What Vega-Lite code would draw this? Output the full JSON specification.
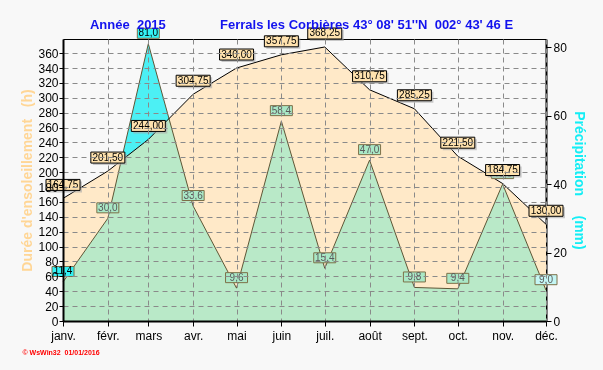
{
  "$schema": "https://vega.github.io/schema/vega-lite/v6.json",
  "width": 483,
  "height": 282,
  "autosize": "none",
  "padding": {"left": 63, "top": 39, "right": 57, "bottom": 49},
  "background": "#F8F8F8",
  "config": {
    "view": {"stroke": "black", "strokeWidth": 1},
    "font": "Liberation Sans",
    "locale": {"number": {"decimal": ",", "thousands": " ", "grouping": [3], "currency": ["", " €"]}}
  },
  "title": {
    "text": "Année\u00a0\u00a02015\u00a0\u00a0\u00a0\u00a0\u00a0\u00a0\u00a0\u00a0\u00a0\u00a0\u00a0\u00a0\u00a0\u00a0\u00a0Ferrals les Corbières 43° 08' 51''N\u00a0\u00a0002° 43' 46 E",
    "color": "#1212EE",
    "font": "Liberation Sans",
    "fontSize": 13,
    "fontWeight": "bold",
    "anchor": "middle",
    "frame": "group",
    "offset": -15,
    "baseline": "alphabetic",
    "dx": -3
  },
  "data": {
    "values": [
      {"date": "2015-01-01T00:00:00", "sun": 164.75, "rain": 11.4},
      {"date": "2015-02-01T00:00:00", "sun": 201.5, "rain": 30.0},
      {"date": "2015-03-01T00:00:00", "sun": 244.0, "rain": 81.0},
      {"date": "2015-04-01T00:00:00", "sun": 304.75, "rain": 33.6},
      {"date": "2015-05-01T00:00:00", "sun": 340.0, "rain": 9.6},
      {"date": "2015-06-01T00:00:00", "sun": 357.75, "rain": 58.4},
      {"date": "2015-07-01T00:00:00", "sun": 368.25, "rain": 15.4},
      {"date": "2015-08-01T00:00:00", "sun": 310.75, "rain": 47.0},
      {"date": "2015-09-01T00:00:00", "sun": 285.25, "rain": 9.8},
      {"date": "2015-10-01T00:00:00", "sun": 221.5, "rain": 9.4},
      {"date": "2015-11-01T00:00:00", "sun": 184.75, "rain": 40.0},
      {"date": "2015-12-01T00:00:00", "sun": 130.0, "rain": 9.0}
    ],
    "format": {"parse": {"date": "date"}}
  },
  "encoding": {
    "x": {
      "field": "date",
      "type": "temporal",
      "scale": {"domain": [{"year": 2015, "month": 1, "date": 1}, {"year": 2015, "month": 12, "date": 1}], "nice": false, "padding": 0},
      "axis": {
        "values": [
          {"year": 2015, "month": 1, "date": 1}, {"year": 2015, "month": 2, "date": 1},
          {"year": 2015, "month": 3, "date": 1}, {"year": 2015, "month": 4, "date": 1},
          {"year": 2015, "month": 5, "date": 1}, {"year": 2015, "month": 6, "date": 1},
          {"year": 2015, "month": 7, "date": 1}, {"year": 2015, "month": 8, "date": 1},
          {"year": 2015, "month": 9, "date": 1}, {"year": 2015, "month": 10, "date": 1},
          {"year": 2015, "month": 11, "date": 1}, {"year": 2015, "month": 12, "date": 1}
        ],
        "labelExpr": "['janv.','févr.','mars','avr.','mai','juin','juil.','août','sept.','oct.','nov.','déc.'][month(datum.value)]",
        "labelFlush": false,
        "labelOverlap": false,
        "labelFont": "Liberation Sans",
        "labelFontSize": 12,
        "labelColor": "black",
        "labelPadding": 4,
        "tickSize": 5,
        "tickColor": "black",
        "domainColor": "black",
        "domainWidth": 2,
        "grid": true,
        "gridColor": "#8A8A8A",
        "gridDash": [5, 4],
        "gridWidth": 1,
        "zindex": 1,
        "title": "©\u00a0WsWin32\u00a0\u00a001/01/2016",
        "titleColor": "#FF0000",
        "titleFontSize": 7,
        "titleFontWeight": "bold",
        "titleAlign": "left",
        "titleAnchor": "start",
        "titleX": -41,
        "titleY": 31,
        "titleBaseline": "middle"
      }
    }
  },
  "layer": [
    {
      "mark": {"type": "area", "color": "#4CF0F4"},
      "encoding": {
        "y": {
          "field": "rain", "type": "quantitative",
          "scale": {"domain": [0, 82.4], "nice": false, "zero": true},
          "axis": {
            "orient": "right",
            "values": [0, 20, 40, 60, 80],
            "grid": false,
            "labelFont": "Liberation Sans",
            "labelFontSize": 12,
            "labelColor": "black",
            "labelPadding": 2,
            "tickSize": 5,
            "tickColor": "black",
            "domainColor": "black",
            "domainWidth": 2,
            "title": "Précipitation\u00a0\u00a0\u00a0\u00a0\u00a0(mm)",
            "titleColor": "#14EEF5",
            "titleFontSize": 14,
            "titleFontWeight": "bold",
            "titlePadding": 5
          }
        }
      }
    },
    {
      "mark": {"type": "area", "color": "#FFE9C8"},
      "encoding": {
        "y": {
          "field": "sun", "type": "quantitative",
          "scale": {"domain": [0, 379], "nice": false, "zero": true},
          "axis": {
            "orient": "left",
            "values": [0, 20, 40, 60, 80, 100, 120, 140, 160, 180, 200, 220, 240, 260, 280, 300, 320, 340, 360],
            "grid": true,
            "gridColor": "#8A8A8A",
            "gridDash": [5, 4],
            "zindex": 1,
            "labelFont": "Liberation Sans",
            "labelFontSize": 12,
            "labelColor": "black",
            "labelPadding": 1,
            "tickSize": 4,
            "tickColor": "black",
            "domainColor": "black",
            "domainWidth": 2,
            "title": "Durée d'ensoleillement\u00a0\u00a0\u00a0(h)",
            "titleColor": "#FFD696",
            "titleFontSize": 14,
            "titleFontWeight": "bold",
            "titlePadding": 3
          }
        }
      }
    },
    {
      "mark": {"type": "area", "color": "#B9FFFF", "blend": "darken"},
      "encoding": {
        "y": {"field": "rain", "type": "quantitative", "scale": {"domain": [0, 82.4], "nice": false}, "axis": null}
      }
    },
    {
      "mark": {"type": "line", "color": "#5E5636", "strokeWidth": 1},
      "encoding": {
        "y": {"field": "rain", "type": "quantitative", "scale": {"domain": [0, 82.4], "nice": false}, "axis": null}
      }
    },
    {
      "mark": {"type": "line", "color": "black", "strokeWidth": 1},
      "encoding": {
        "y": {"field": "sun", "type": "quantitative", "scale": {"domain": [0, 379], "nice": false}, "axis": null}
      }
    },
    {
      "mark": {"type": "rect", "width": 22, "height": 10, "yOffset": -10.5, "stroke": "#7D7048", "strokeWidth": 1},
      "encoding": {
        "y": {"field": "rain", "type": "quantitative", "scale": {"domain": [0, 82.4], "nice": false}, "axis": null},
        "fill": {
          "condition": [
            {"test": "month(datum.date) == 0 || month(datum.date) == 2", "value": "#33F2F5"},
            {"test": "month(datum.date) == 11", "value": "#C4F6F4"}
          ],
          "value": "#A9E8C6"
        }
      }
    },
    {
      "mark": {"type": "text", "fontSize": 10, "yOffset": -10.5, "font": "Liberation Sans"},
      "encoding": {
        "y": {"field": "rain", "type": "quantitative", "scale": {"domain": [0, 82.4], "nice": false}, "axis": null},
        "text": {"field": "rain", "type": "quantitative", "format": ".1f"},
        "color": {
          "condition": {"test": "month(datum.date) == 0 || month(datum.date) == 2", "value": "black"},
          "value": "#5A5A5A"
        }
      }
    },
    {
      "mark": {"type": "rect", "width": 34, "height": 11, "xOffset": 2, "yOffset": -11.5, "color": "#A8A8A8", "opacity": 0.6},
      "encoding": {
        "y": {"field": "sun", "type": "quantitative", "scale": {"domain": [0, 379], "nice": false}, "axis": null}
      }
    },
    {
      "mark": {"type": "rect", "width": 34, "height": 11, "yOffset": -13.5, "fill": "#FFE2AE", "stroke": "black", "strokeWidth": 1},
      "encoding": {
        "y": {"field": "sun", "type": "quantitative", "scale": {"domain": [0, 379], "nice": false}, "axis": null}
      }
    },
    {
      "mark": {"type": "text", "fontSize": 10, "yOffset": -13.5, "font": "Liberation Sans", "color": "black"},
      "encoding": {
        "y": {"field": "sun", "type": "quantitative", "scale": {"domain": [0, 379], "nice": false}, "axis": null},
        "text": {"field": "sun", "type": "quantitative", "format": ".2f"}
      }
    }
  ],
  "resolve": {"scale": {"y": "independent"}}
}
